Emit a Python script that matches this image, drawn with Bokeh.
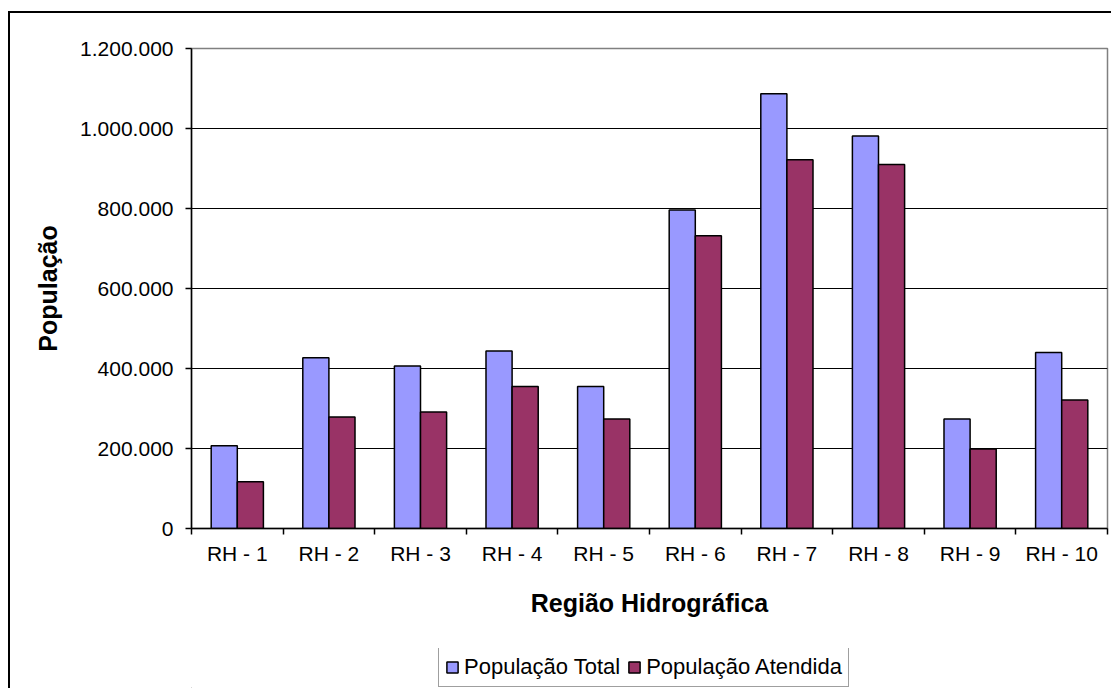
import numpy as np
from bokeh.plotting import figure
from bokeh.layouts import column
from bokeh.models import (ColumnDataSource, FixedTicker, CustomJSTickFormatter,
                          Legend, LegendItem, Range1d)
from bokeh.transform import dodge
from bokeh.embed import file_html
from bokeh.resources import INLINE

categories = ["RH - 1", "RH - 2", "RH - 3", "RH - 4", "RH - 5",
              "RH - 6", "RH - 7", "RH - 8", "RH - 9", "RH - 10"]
pop_total = [207000, 427000, 406000, 444000, 355000,
             796000, 1087000, 981000, 274000, 440000]
pop_atendida = [117000, 279000, 291000, 355000, 274000,
                732000, 922000, 910000, 199000, 321000]
y_ticks = [0, 200000, 400000, 600000, 800000, 1000000, 1200000]
series_names = ["População Total", "População Atendida"]
series_colors = ["#9999FF", "#993366"]

FONT = "Liberation Sans"

src = ColumnDataSource(dict(
    x=np.arange(len(categories)) + 0.5,
    total=pop_total,
    atendida=pop_atendida,
))

p = figure(width=1103, height=637, output_backend="svg", toolbar_location=None,
           x_range=Range1d(0, len(categories)), y_range=Range1d(0, 1200000),
           min_border_left=183, min_border_right=4, min_border_top=37,
           min_border_bottom=120)
p.border_fill_color = None
p.background_fill_color = "white"
p.outline_line_color = "#808080"
p.outline_line_width = 1.5

w = 0.285
p.vbar(x=dodge("x", -w / 2), top="total", width=w, source=src,
       fill_color=series_colors[0], line_color="black", line_width=1.5)
p.vbar(x=dodge("x", w / 2), top="atendida", width=w, source=src,
       fill_color=series_colors[1], line_color="black", line_width=1.5)

# grid
p.xgrid.visible = False
p.ygrid.ticker = FixedTicker(ticks=y_ticks[1:-1])
p.ygrid.grid_line_color = "black"
p.ygrid.grid_line_width = 1

# x axis
xa = p.xaxis[0]
xa.ticker = FixedTicker(ticks=list(np.arange(len(categories)) + 0.5),
                        minor_ticks=list(range(len(categories) + 1)))
xa.formatter = CustomJSTickFormatter(args=dict(cats=categories),
                                     code="return cats[Math.floor(tick)];")
xa.major_tick_line_color = None
xa.major_tick_out = 6
xa.major_tick_in = 0
xa.minor_tick_line_color = "black"
xa.minor_tick_out = 6
xa.minor_tick_in = 0
xa.minor_tick_line_width = 1.5
xa.axis_line_color = "black"
xa.axis_line_width = 1.5
xa.major_label_text_font = FONT
xa.major_label_text_font_size = "21px"
xa.major_label_text_color = "black"
xa.major_label_standoff = 7
xa.axis_label = "Região Hidrográfica"
xa.axis_label_text_font = FONT
xa.axis_label_text_font_size = "25px"
xa.axis_label_text_font_style = "bold"
xa.axis_label_text_color = "black"
xa.axis_label_standoff = 21

# y axis
ya = p.yaxis[0]
ya.ticker = FixedTicker(ticks=y_ticks)
ya.formatter = CustomJSTickFormatter(
    code="return Math.round(tick).toString().replace(/\\B(?=(\\d{3})+(?!\\d))/g, '.');")
ya.major_tick_out = 6
ya.major_tick_in = 0
ya.minor_tick_line_color = None
ya.major_tick_line_color = "black"
ya.major_tick_line_width = 1.5
ya.axis_line_color = "black"
ya.axis_line_width = 1.5
ya.major_label_text_font = FONT
ya.major_label_text_font_size = "21px"
ya.major_label_text_color = "black"
ya.major_label_standoff = 12
ya.axis_label = "População"
ya.axis_label_text_font = FONT
ya.axis_label_text_font_size = "25px"
ya.axis_label_text_font_style = "bold"
ya.axis_label_text_color = "black"
ya.axis_label_standoff = 15

# legend strip below the chart (frame aligned with the main chart's frame)
lf = figure(width=1103, height=40, output_backend="svg", toolbar_location=None,
            x_axis_location=None, y_axis_location=None,
            x_range=Range1d(0, 1), y_range=Range1d(0, 1),
            min_border_left=0, min_border_right=0, min_border_top=0,
            min_border_bottom=0)
lf.border_fill_color = None
lf.background_fill_color = None
lf.outline_line_color = None
lf.xgrid.visible = False
lf.ygrid.visible = False
items = []
for name, col in zip(series_names, series_colors):
    # off-range proxy renderer: only used to draw the legend swatch
    rr = lf.vbar(x=[-5], top=[-5], bottom=[-6], width=0, fill_color=col,
                 line_color="black", line_width=1.5)
    items.append(LegendItem(label=name, renderers=[rr]))

legend = Legend(items=items, orientation="horizontal", location=(247, 1),
                glyph_width=14, glyph_height=14, label_standoff=5, spacing=7,
                padding=6, margin=0, label_text_font=FONT,
                label_text_font_size="22px", label_text_color="black",
                label_height=21, border_line_color="#404040",
                border_line_width=1.5, background_fill_color="white",
                background_fill_alpha=1)
lf.add_layout(legend, "center")

layout = column(p, lf, spacing=0)
layout.margin = (11, 0, 0, 8)
layout.styles = {"box-shadow": "inset 2px 0 0 0 #000, inset 0 2px 0 0 #000"}

open("out.html", "w").write(file_html(layout, INLINE))
